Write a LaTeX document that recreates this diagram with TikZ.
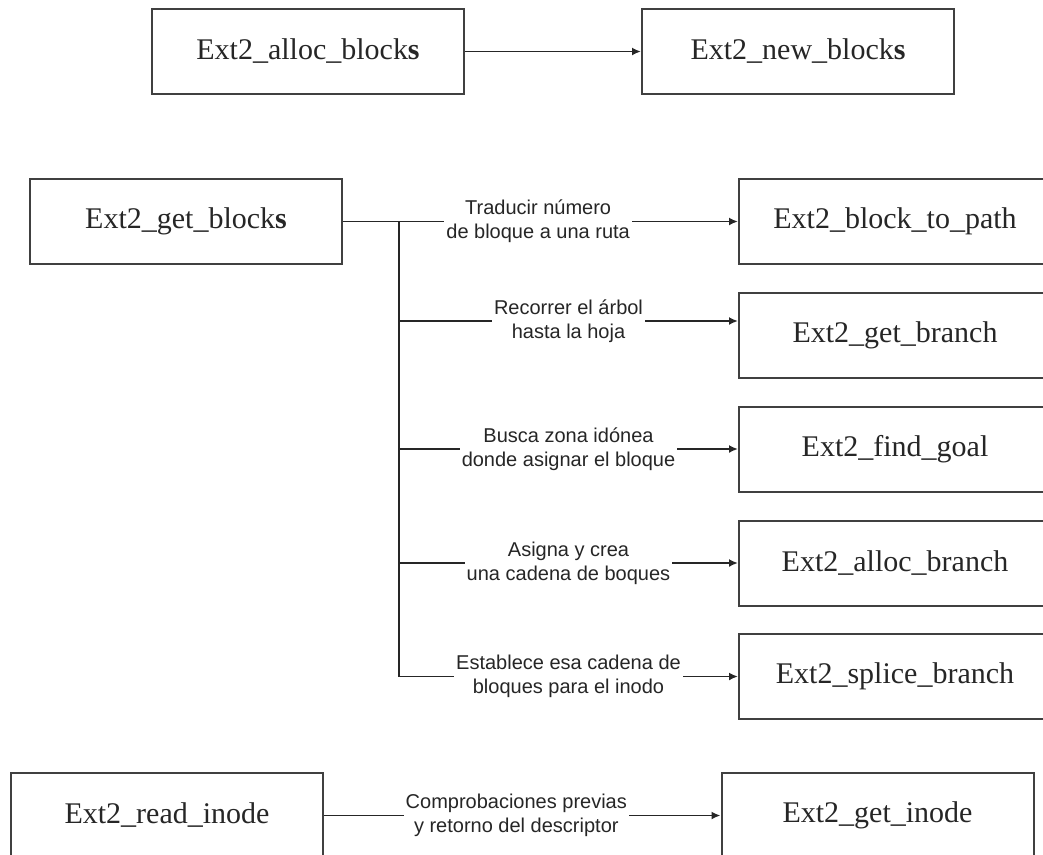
\documentclass[tikz,border=0pt]{standalone}
\usepackage{fontspec}
\setmainfont{Liberation Serif}
\newfontfamily\lblfont{Liberation Sans}
\usetikzlibrary{arrows.meta}
\tikzset{
  funcbox/.style={draw=black!75, line width=2pt, minimum width=312pt, minimum height=85pt, inner sep=0pt, font=\fontsize{30}{34}\selectfont, text=black!85},
  conn/.style={draw=black!85, line width=1.8pt},
  arr/.style={conn, -{Latex[length=9pt,width=8pt]}},
  lbl/.style={fill=white, font=\lblfont\fontsize{20}{24}\selectfont, align=center, inner sep=2pt, text=black!85},
}
\begin{document}
\begin{tikzpicture}[x=1pt, y=-1pt]
\useasboundingbox (0,0) rectangle (1043,854);
% top row
\node[funcbox] (alloc) at (308,51.5) {Ext2\_alloc\_block\textbf{s}};
\node[funcbox] (newb) at (798,51.5) {Ext2\_new\_block\textbf{s}};
\draw[arr] (alloc.east) -- (newb.west);
% middle group
\node[funcbox] (getb) at (186,221.5) {Ext2\_get\_block\textbf{s}};
\node[funcbox] (btp) at (895,221.5) {Ext2\_block\_to\_path};
\node[funcbox] (gbr) at (895,335) {Ext2\_get\_branch};
\node[funcbox] (fgoal) at (895,449) {Ext2\_find\_goal};
\node[funcbox] (abr) at (895,563) {Ext2\_alloc\_branch};
\node[funcbox] (sbr) at (895,676.5) {Ext2\_splice\_branch};
\coordinate (j1) at (399,221.5);
\coordinate (j2) at (399,321);
\coordinate (j3) at (399,449);
\coordinate (j4) at (399,563);
\coordinate (j5) at (399,676.5);
\draw[conn] (j1) -- (j5);
\draw[arr] (getb.east) -- (btp.west) node[lbl, pos=0.494] (l1) {Traducir número\\de bloque a una ruta};
\draw[arr] (j2) -- (j2 -| gbr.west) node[lbl, midway] (l2) {Recorrer el árbol\\hasta la hoja};
\draw[arr] (j3) -- (fgoal.west) node[lbl, midway] (l3) {Busca zona idónea\\donde asignar el bloque};
\draw[arr] (j4) -- (abr.west) node[lbl, midway] (l4) {Asigna y crea\\una cadena de boques};
\draw[arr] (j5) -- (sbr.west) node[lbl, midway] (l5) {Establece esa cadena de\\bloques para el inodo};
% bottom row
\node[funcbox] (rinode) at (167,815.5) {Ext2\_read\_inode};
\node[funcbox] (ginode) at (877.5,815.5) {Ext2\_get\_inode};
\draw[arr] (rinode.east) -- (ginode.west) node[lbl, pos=0.485] (l6) {Comprobaciones previas\\y retorno del descriptor};
\end{tikzpicture}
\end{document}
